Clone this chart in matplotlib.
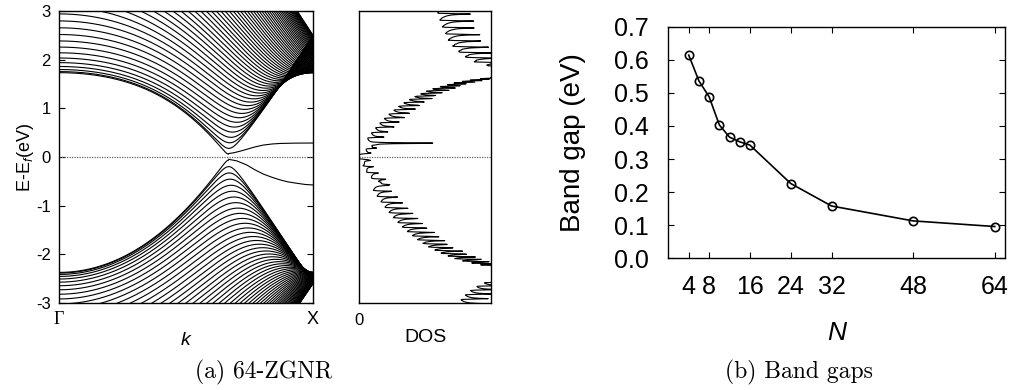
import numpy as np
import matplotlib
matplotlib.use("Agg")
import matplotlib.pyplot as plt

plt.rcParams['font.family'] = ['Liberation Sans', 'DejaVu Sans']
plt.rcParams['mathtext.fontset'] = 'custom'
plt.rcParams['mathtext.rm'] = 'Liberation Sans'
plt.rcParams['mathtext.it'] = 'Liberation Sans:italic'

# ---------------- (b) Band gaps: values ----------------
ribbon_width = [4, 6, 8, 10, 12, 14, 16, 24, 32, 48, 64]
band_gap_ev = [0.614, 0.536, 0.488, 0.403, 0.366, 0.352, 0.342, 0.226, 0.158, 0.113, 0.096]
gap_xticks = [4, 8, 16, 24, 32, 48, 64]
gap_yticks = [0.0, 0.1, 0.2, 0.3, 0.4, 0.5, 0.6, 0.7]

# ---------------- (a) 64-ZGNR: tight-binding model parameters ----------------
n_chains = 64
cond_t1, cond_t2, cond_t3 = 3.225, -0.34, 0.385   # conduction-band hoppings (eV)
val_t1, val_t2, val_t3 = 2.96, 0.245, 0.115       # valence-band hoppings (eV)

# edge states (k in units of pi/a, energy in eV)
edge_up_k = [0.667, 0.686, 0.71, 0.739, 0.77, 0.804, 0.84, 0.87, 0.93, 1.0]
edge_up_e = [0.07, 0.085, 0.115, 0.158, 0.205, 0.245, 0.268, 0.278, 0.285, 0.287]
edge_dn_k = [0.667, 0.70, 0.739, 0.77, 0.804, 0.84, 0.87, 0.90, 0.936, 0.97, 1.0]
edge_dn_e = [-0.047, -0.08, -0.164, -0.26, -0.35, -0.42, -0.47, -0.51, -0.54, -0.565, -0.575]

band_yticks = [-3, -2, -1, 0, 1, 2, 3]
k_tick_labels = ['Γ', 'X']


def ribbon_bands(n_k):
    k = np.linspace(0, np.pi, n_k)
    p = np.arange(1, n_chains + 1) * np.pi / (n_chains + 0.5)
    K, P = np.meshgrid(k, p)
    g = 2 * np.cos(K / 2)
    f2 = 2 * np.cos(K) + 2 * g * np.cos(P) + 3

    def hmag(t1, t3):
        h = t1 * (np.exp(1j * P) + g) + t3 * (np.exp(-1j * P) + 2 * np.cos(K) * np.exp(1j * P))
        return np.abs(h)

    ec = cond_t2 * f2 + hmag(cond_t1, cond_t3)
    ev = val_t2 * f2 - hmag(val_t1, val_t3)
    return k / np.pi, ec, ev


u, Ec, Ev = ribbon_bands(1000)
left = u <= 2 / 3 + 1e-9

fig = plt.figure(figsize=(10.18, 3.9), dpi=100)
ax_b = fig.add_axes([0.058, 0.2231, 0.2495, 0.7487])
ax_d = fig.add_axes([0.3527, 0.2231, 0.1297, 0.7487])
ax_g = fig.add_axes([0.6565, 0.3377, 0.3307, 0.594])

lw_band = 0.8
for i in range(n_chains):
    sel = left if i == n_chains - 1 else slice(None)
    ax_b.plot(u[sel], Ec[i][sel], color='k', lw=lw_band)
    ax_b.plot(u[sel], Ev[i][sel], color='k', lw=lw_band)
ax_b.plot(edge_up_k, edge_up_e, color='k', lw=lw_band)
ax_b.plot(edge_dn_k, edge_dn_e, color='k', lw=lw_band)
ax_b.axhline(0, color='0.4', ls=(0, (1, 1)), lw=0.9)
ax_b.set_xlim(0, 1)
ax_b.set_ylim(-3, 3)
ax_b.set_yticks(band_yticks)
ax_b.set_yticklabels([str(v) for v in band_yticks])
ax_b.set_xticks([0, 1])
ax_b.set_xticklabels(k_tick_labels)
ax_b.get_xticklabels()[0].set_fontfamily(['Liberation Serif', 'DejaVu Serif'])
ax_b.tick_params(axis='y', direction='in', length=4, width=0.8, right=True, labelsize=12, pad=6)
ax_b.tick_params(axis='x', length=0, labelsize=13, pad=6)
ax_b.set_ylabel('E-E$_f$(eV)', fontsize=13, labelpad=0)
ax_b.set_xlabel('k', fontsize=14, style='italic', labelpad=3)

# ---- density of states from the same model bands (dense k sampling) ----
u2, Ec2, Ev2 = ribbon_bands(12000)
left2 = u2 <= 2 / 3 + 1e-9
right2 = ~left2
all_e = np.concatenate([Ec2[:-1].ravel(), Ev2[:-1].ravel(), Ec2[-1][left2], Ev2[-1][left2],
                        np.interp(u2[right2], edge_up_k, edge_up_e),
                        np.interp(u2[right2], edge_dn_k, edge_dn_e)])
de = 0.002
edges = np.arange(-3.2, 3.2 + de, de)
hist, _ = np.histogram(all_e, bins=edges)
centers = 0.5 * (edges[1:] + edges[:-1])
sig = 0.005
kx = np.arange(-5 * sig, 5 * sig + de, de)
kern = np.exp(-kx ** 2 / (2 * sig ** 2))
dos = np.convolve(hist, kern / kern.sum(), mode='same')
e_grid = centers[::4]
dos = dos[::4]
ref = np.mean(dos[(e_grid > 0.8) & (e_grid < 1.4)])
ax_d.plot(dos, e_grid, color='k', lw=0.8)
ax_d.axhline(0, color='0.4', ls=(0, (1, 1)), lw=0.9)
ax_d.set_ylim(-3, 3)
ax_d.set_xlim(0, 2.5 * ref)
ax_d.set_yticks([])
ax_d.set_xticks([0])
ax_d.set_xticklabels(['0'])
ax_d.tick_params(axis='x', length=0, labelsize=12, pad=7)
ax_d.set_xlabel('DOS', fontsize=14, labelpad=1)

# ---- band gaps ----
ax_g.plot(ribbon_width, band_gap_ev, color='k', lw=1.2, marker='o', ms=6,
          mfc='none', mec='k', mew=1.2)
ax_g.set_xlim(0, 66)
ax_g.set_ylim(0, 0.7)
ax_g.set_xticks(gap_xticks)
ax_g.set_xticklabels([str(v) for v in gap_xticks])
ax_g.set_yticks(gap_yticks)
ax_g.set_yticklabels(['%.1f' % v for v in gap_yticks])
ax_g.tick_params(direction='in', length=4, width=0.8, top=True, right=True, labelsize=18)
ax_g.tick_params(axis='y', pad=14)
ax_g.tick_params(axis='x', pad=12)
ax_g.set_ylabel('Band gap (eV)', fontsize=20, labelpad=20)
ax_g.set_xlabel('N', fontsize=19, style='italic', labelpad=16)

for ax in (ax_b, ax_d, ax_g):
    for s in ax.spines.values():
        s.set_linewidth(1.0)

fig.text(264 / 1018, 1 - 372 / 390, '(a) 64-ZGNR', family='cmr10', fontsize=17,
         ha='center', va='center')
fig.text(799 / 1018, 1 - 372 / 390, '(b) Band gaps', family='cmr10', fontsize=17,
         ha='center', va='center')

fig.savefig('out.png', dpi=100)
